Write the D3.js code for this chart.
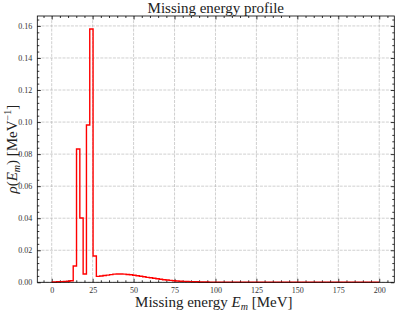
<!DOCTYPE html>
<html>
<head>
<meta charset="utf-8">
<script src="https://cdn.jsdelivr.net/npm/d3@7"></script>
<style>
  body { margin: 0; background: #fff; }
  svg { display: block; font-family: "Liberation Serif", "DejaVu Serif", serif; }
</style>
</head>
<body>
<div id="chart"></div>
<script>
// bin centres (100 bins over 0..200 MeV) and density values
var binCount = 100;
var binCenters = d3.range(binCount).map(i => i * 200 / (binCount - 1));
var density = [
  0.0002, 0.0002, 0.0003, 0.0004, 0.0005, 0.0007, 0.0010, 0.0102, 0.0832, 0.0401,
  0.0052, 0.0982, 0.1581, 0.0164, 0.0037, 0.0039, 0.0042, 0.0045, 0.0048, 0.0051,
  0.0052, 0.0052, 0.0051, 0.0049, 0.0047, 0.0044, 0.0041, 0.0038, 0.0035, 0.0031,
  0.0028, 0.0025, 0.0022, 0.0019, 0.0016, 0.0014, 0.0012, 0.0010, 0.0008, 0.0007,
  0.0006, 0.0005, 0.0004, 0.0003, 0.0003, 0.0002, 0.0002, 0.0002, 0.0001, 0.0001,
  0.0001, 0.0001, 0.0001, 0.0001, 0.0001, 0.0001, 0.0001, 0.0001, 0.0001, 0.0001,
  0.0001, 0.0001, 0.0001, 0.0001, 0.0001, 0.0001, 0.0001, 0.0001, 0.0001, 0.0001,
  0.0001, 0.0001, 0.0001, 0.0001, 0.0001, 0.0001, 0.0001, 0.0001, 0.0001, 0.0001,
  0.0001, 0.0001, 0.0001, 0.0001, 0.0001, 0.0001, 0.0001, 0.0001, 0.0001, 0.0001,
  0.0001, 0.0001, 0.0001, 0.0001, 0.0001, 0.0001, 0.0001, 0.0001, 0.0001, 0.0001
];
var xTicks = [0, 25, 50, 75, 100, 125, 150, 175, 200];
var yTicks = [0, 0.02, 0.04, 0.06, 0.08, 0.10, 0.12, 0.14, 0.16];

var svgWidth = 396;
var svgHeight = 312;
var margin = {top: 16, right: 1.7, bottom: 29.7, left: 37.3};
var width = svgWidth - margin.left - margin.right;
var height = svgHeight - margin.top - margin.bottom;

const svg = d3.select("#chart")
  .append("svg")
  .attr("width", svgWidth)
  .attr("height", svgHeight);

const chart = svg.append("g")
  .attr("transform", `translate(${margin.left}, ${margin.top})`);

let x = d3.scaleLinear().domain([-8.8, 209.2]).range([0, width]);
let y = d3.scaleLinear().domain([0, 0.1662]).range([height, 0]);

// grid
chart.append("g").selectAll("line")
  .data(xTicks)
  .enter().append("line")
  .attr("x1", d => x(d)).attr("x2", d => x(d))
  .attr("y1", 0).attr("y2", height)
  .attr("stroke", "#b0b0b0").attr("stroke-width", 0.6)
  .attr("stroke-dasharray", "3,1.2");

chart.append("g").selectAll("line")
  .data(yTicks)
  .enter().append("line")
  .attr("x1", 0).attr("x2", width)
  .attr("y1", d => y(d)).attr("y2", d => y(d))
  .attr("stroke", "#b0b0b0").attr("stroke-width", 0.6)
  .attr("stroke-dasharray", "3,1.2");

// inward ticks on all sides
var xMinor = d3.range(-5, 210, 5).filter(v => v % 25 !== 0 && v > -8.8 && v < 209.2);
var yMinor = d3.range(0, 0.166, 0.004).filter((v, i) => i % 5 !== 0);

function addAxis(axisFn, scale, ticks, size, fmt, transform) {
  let ax = chart.append("g")
    .attr("transform", transform)
    .call(axisFn(scale).tickValues(ticks).tickSize(-size).tickFormat(fmt).tickPadding(5));
  ax.select(".domain").remove();
  ax.selectAll("line").attr("stroke", "#000").attr("stroke-width", 0.8);
  ax.selectAll("text").attr("font-size", 8).attr("fill", "#333")
    .attr("font-family", "Liberation Serif, serif");
  return ax;
}

addAxis(d3.axisBottom, x, xTicks, 3.5, d3.format("d"), `translate(0, ${height})`);
addAxis(d3.axisBottom, x, xMinor, 2, "", `translate(0, ${height})`);
addAxis(d3.axisTop, x, xTicks, 3.5, "", "translate(0,0)");
addAxis(d3.axisTop, x, xMinor, 2, "", "translate(0,0)");
addAxis(d3.axisLeft, y, yTicks, 3.5, d3.format(".2f"), "translate(0,0)");
addAxis(d3.axisLeft, y, yMinor, 2, "", "translate(0,0)");
addAxis(d3.axisRight, y, yTicks, 3.5, "", `translate(${width},0)`);
addAxis(d3.axisRight, y, yMinor, 2, "", `translate(${width},0)`);

// histogram step line
let line = d3.line()
  .x((d, i) => x(binCenters[i]))
  .y(d => y(d))
  .curve(d3.curveStep);

chart.append("path")
  .datum(density)
  .attr("d", line)
  .attr("fill", "none")
  .attr("stroke", "#ff0000")
  .attr("stroke-width", 1.4)
  .attr("stroke-linejoin", "miter");

// frame
chart.append("rect")
  .attr("width", width).attr("height", height)
  .attr("fill", "none").attr("stroke", "#000").attr("stroke-width", 0.8);

// labels
svg.append("text")
  .attr("x", margin.left + width / 2)
  .attr("y", 13)
  .attr("text-anchor", "middle")
  .attr("font-size", 15)
  .attr("fill", "#222")
  .text("Missing energy profile");

const xlabel = svg.append("text")
  .attr("x", margin.left + width / 2 - 2)
  .attr("y", 307)
  .attr("text-anchor", "middle")
  .attr("font-size", 15)
  .attr("fill", "#222");
xlabel.append("tspan").text("Missing energy ");
xlabel.append("tspan").attr("font-style", "italic").text("E");
xlabel.append("tspan").attr("font-style", "italic").attr("font-size", 10).attr("dy", 3).text("m");
xlabel.append("tspan").attr("dy", -3).text(" [MeV]");

const ylabel = svg.append("text")
  .attr("transform", "rotate(-90)")
  .attr("x", -(margin.top + height / 2))
  .attr("y", 17)
  .attr("text-anchor", "middle")
  .attr("font-size", 15)
  .attr("fill", "#222");
ylabel.append("tspan").attr("font-style", "italic").text("ρ");
ylabel.append("tspan").text("(");
ylabel.append("tspan").attr("font-style", "italic").text("E");
ylabel.append("tspan").attr("font-style", "italic").attr("font-size", 10).attr("dy", 3).text("m");
ylabel.append("tspan").attr("dy", -3).text(") [MeV");
ylabel.append("tspan").attr("font-size", 10).attr("dy", -6).text("−1");
ylabel.append("tspan").attr("dy", 6).text("]");
</script>
</body>
</html>
